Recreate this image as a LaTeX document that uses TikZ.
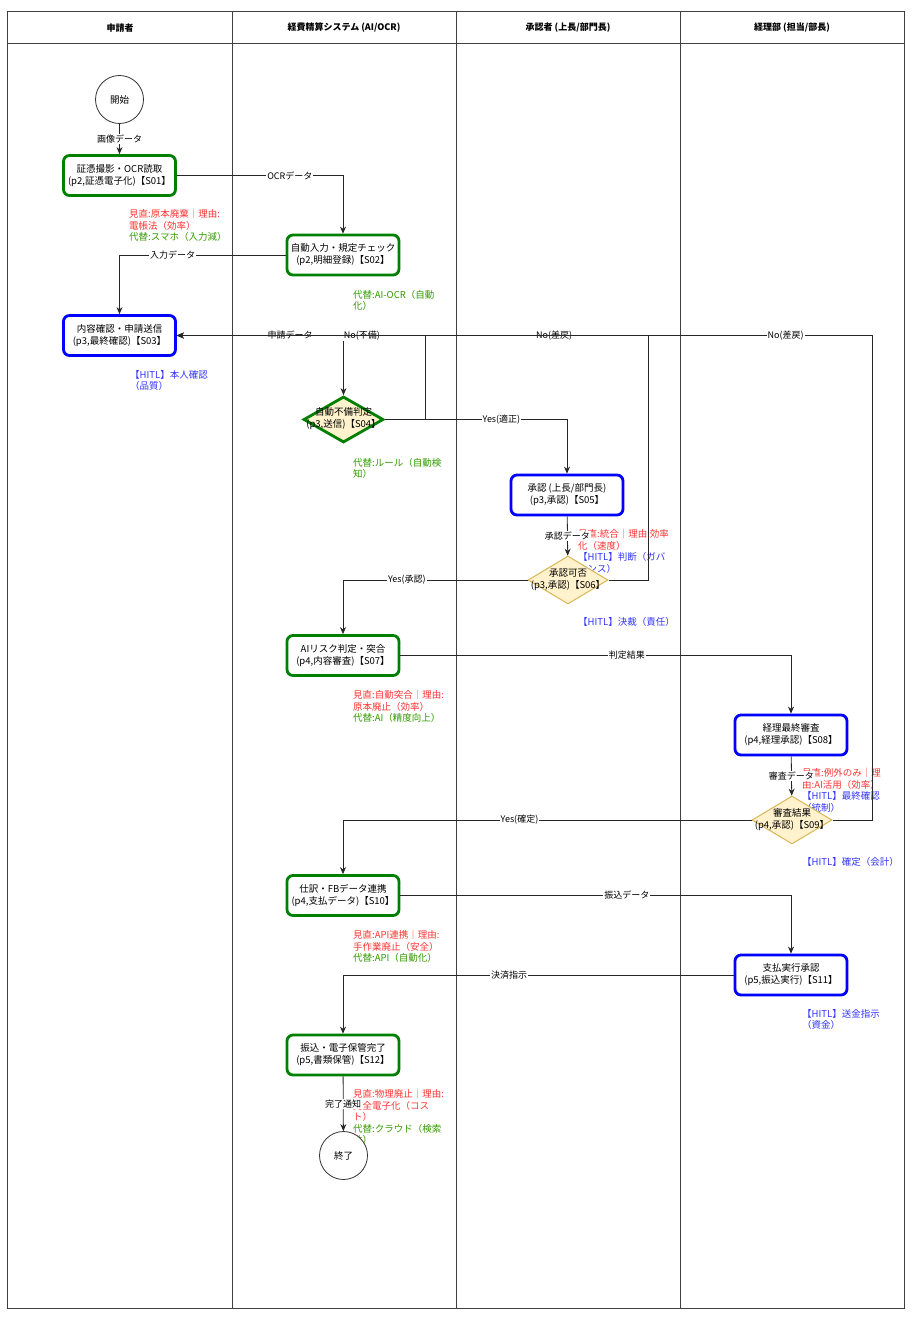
\documentclass[tikz,border=0pt]{standalone}
\usepackage{fontspec}
\setmainfont{Noto Sans CJK JP}
\usetikzlibrary{shapes.geometric,arrows.meta}
\definecolor{boxgreen}{HTML}{008000}
\definecolor{boxblue}{HTML}{0000FF}
\definecolor{annred}{HTML}{FF3333}
\definecolor{anngreen}{HTML}{339900}
\definecolor{annblue}{HTML}{3333FF}
\definecolor{decfill}{HTML}{FFF2CC}
\definecolor{decline}{HTML}{D6B656}
\newcommand{\zw}[1]{\makebox[0pt]{\begin{tabular}{@{}c@{}}#1\end{tabular}}}
\begin{document}
\begin{tikzpicture}[x=1pt,y=-1pt,
  lane/.style={draw=black!75, line width=1pt},
  hdr/.style={font=\fontsize{9}{11}\selectfont\bfseries, inner sep=0pt},
  proc/.style={draw, rounded corners=6pt, line width=2.8pt, fill=white, minimum width=112pt, minimum height=40pt, align=center, inner sep=0pt, font=\fontsize{9.5}{12}\selectfont},
  greenproc/.style={proc, draw=boxgreen},
  blueproc/.style={proc, draw=boxblue},
  dec/.style={diamond, draw=decline, fill=decfill, line width=1pt, minimum width=80pt, minimum height=48pt, inner sep=0pt, font=\fontsize{9.5}{12}\selectfont},
  term/.style={circle, draw=black!80, line width=0.8pt, fill=white, minimum size=48pt, inner sep=0pt, font=\fontsize{9.5}{12}\selectfont},
  ann/.style={anchor=north west, align=left, inner sep=0pt, font=\fontsize{9.5}{11.5}\selectfont},
  elab/.style={fill=white, inner sep=1pt, text=black, font=\fontsize{9}{11}\selectfont},
  flow/.style={draw=black!85, line width=0.8pt, -{Stealth[length=7pt,width=6pt]}}
]
\useasboundingbox (0,0) rectangle (914,1324);
% swimlanes
\draw[lane] (7.5,12) rectangle (904,1308);
\draw[lane] (7.5,44) -- (904,44);
\draw[lane] (232,12) -- (232,1308);
\draw[lane] (456,12) -- (456,1308);
\draw[lane] (680,12) -- (680,1308);
\node[hdr] (h1) at (120,28) {申請者};
\node[hdr] (h2) at (344,28) {経費精算システム (AI/OCR)};
\node[hdr] (h3) at (568,28) {承認者 (上長/部門長)};
\node[hdr] (h4) at (792,28) {経理部 (担当/部長)};
% annotations
\node[ann] (a01) at (129,209) {\textcolor{annred}{見直:原本廃棄｜理由:}\\\textcolor{annred}{電帳法（効率）}\\\textcolor{anngreen}{代替:スマホ（入力減）}};
\node[ann] (a02) at (353,290) {\textcolor{anngreen}{代替:AI-OCR（自動}\\\textcolor{anngreen}{化）}};
\node[ann] (a03) at (130,370) {\textcolor{annblue}{【HITL】本人確認}\\\textcolor{annblue}{（品質）}};
\node[ann] (a04) at (353,458) {\textcolor{anngreen}{代替:ルール（自動検}\\\textcolor{anngreen}{知）}};
\node[ann] (a06) at (578,529) {\textcolor{annred}{見直:統合｜理由:効率}\\\textcolor{annred}{化（速度）}\\\textcolor{annblue}{【HITL】判断（ガバ}\\\textcolor{annblue}{ナンス）}};
\node[ann] (a06b) at (578,617.5) {\textcolor{annblue}{【HITL】決裁（責任）}};
\node[ann] (a07) at (353,690) {\textcolor{annred}{見直:自動突合｜理由:}\\\textcolor{annred}{原本廃止（効率）}\\\textcolor{anngreen}{代替:AI（精度向上）}};
\node[ann] (a08) at (802,768) {\textcolor{annred}{見直:例外のみ｜理}\\\textcolor{annred}{由:AI活用（効率）}\\\textcolor{annblue}{【HITL】最終確認}\\\textcolor{annblue}{（統制）}};
\node[ann] (a09) at (802,857.5) {\textcolor{annblue}{【HITL】確定（会計）}};
\node[ann] (a10) at (353,930) {\textcolor{annred}{見直:API連携｜理由:}\\\textcolor{annred}{手作業廃止（安全）}\\\textcolor{anngreen}{代替:API（自動化）}};
\node[ann] (a11) at (802,1009) {\textcolor{annblue}{【HITL】送金指示}\\\textcolor{annblue}{（資金）}};
\node[ann] (a12) at (353,1089) {\textcolor{annred}{見直:物理廃止｜理由:}\\\textcolor{annred}{完全電子化（コス}\\\textcolor{annred}{ト）}\\\textcolor{anngreen}{代替:クラウド（検索}\\\textcolor{anngreen}{性）}};
% nodes
\node[term] (start) at (119.5,99.5) {開始};
\node[greenproc] (s01) at (119.5,175.5) {証憑撮影・OCR読取\\(p2,証憑電子化)【S01】};
\node[greenproc] (s02) at (343,255) {自動入力・規定チェック\\(p2,明細登録)【S02】};
\node[blueproc] (s03) at (119.5,335.5) {内容確認・申請送信\\(p3,最終確認)【S03】};
\node[dec, draw=boxgreen, line width=2.8pt, minimum width=80pt, minimum height=46pt] (s04) at (343.5,419.5) {\zw{自動不備判定\\(p3,送信)【S04】}};
\node[blueproc] (s05) at (567,495) {承認 (上長/部門長)\\(p3,承認)【S05】};
\node[dec] (s06) at (568,580) {\zw{承認可否\\(p3,承認)【S06】}};
\node[greenproc] (s07) at (343,655.5) {AIリスク判定・突合\\(p4,内容審査)【S07】};
\node[blueproc] (s08) at (791,735) {経理最終審査\\(p4,経理承認)【S08】};
\node[dec] (s09) at (792,820) {\zw{審査結果\\(p4,承認)【S09】}};
\node[greenproc] (s10) at (343,895.5) {仕訳・FBデータ連携\\(p4,支払データ)【S10】};
\node[blueproc] (s11) at (791,975) {支払実行承認\\(p5,振込実行)【S11】};
\node[greenproc] (s12) at (343,1055) {振込・電子保管完了\\(p5,書類保管)【S12】};
\node[term] (end) at (343.5,1155.5) {終了};
% connectors
\draw[flow] (start) -- node[elab]{画像データ} (s01);
\draw[flow] (s01.east) -| node[elab,pos=0.34]{OCRデータ} (s02.north);
\draw[flow] (s02.west) -| node[elab,pos=0.34]{入力データ} (s03.north);
\draw[flow] (s03.east) -| node[elab,pos=0.34]{申請データ} (s04.north);
\draw[flow] (s04.east) -- ++(40,0) |- node[elab,pos=0.627]{No(不備)} (s03.east);
\draw[flow] (s04.east) -| node[elab,pos=0.32]{Yes(適正)} (s05.north);
\draw[flow] (s05) -- node[elab]{承認データ} (s06);
\draw[flow] (s06.east) -- ++(40,0) |- node[elab,pos=0.6]{No(差戻)} (s03.east);
\draw[flow] (s06.west) -| node[elab,pos=0.327]{Yes(承認)} (s07.north);
\draw[flow] (s07.east) -| node[elab,pos=0.29]{判定結果} (s08.north);
\draw[flow] (s08) -- node[elab]{審査データ} (s09);
\draw[flow] (s09.east) -- ++(40,0) |- node[elab,pos=0.5625]{No(差戻)} (s03.east);
\draw[flow] (s09.west) -| node[elab,pos=0.284]{Yes(確定)} (s10.north);
\draw[flow] (s10.east) -| node[elab,pos=0.29]{振込データ} (s11.north);
\draw[flow] (s11.west) -| node[elab,pos=0.2875]{決済指示} (s12.north);
\draw[flow] (s12) -- node[elab]{完了通知} (end);
\end{tikzpicture}
\end{document}
